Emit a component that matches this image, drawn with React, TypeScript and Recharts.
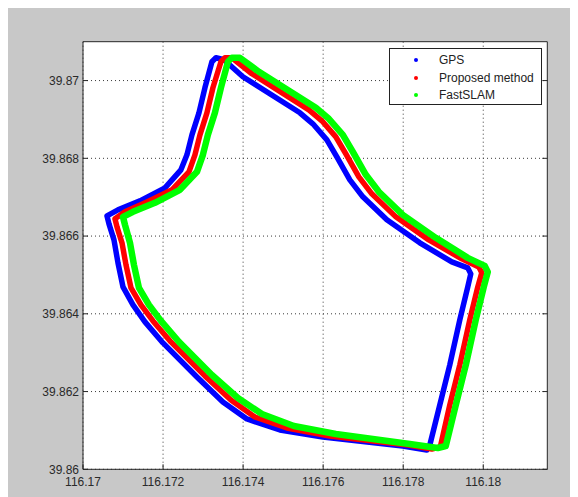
import React from "react";
import { LineChart, Line, XAxis, YAxis, CartesianGrid, Legend } from "recharts";

// Longitude / latitude samples
const gpsLon = [
  116.178665, 116.178914, 116.179164, 116.179414, 116.179613, 116.179688, 116.179613, 116.179214,
  116.178415, 116.177591, 116.176992, 116.176667, 116.176342, 116.176093, 116.175743, 116.175419,
  116.173995, 116.173521, 116.173321, 116.173221, 116.173046, 116.172897, 116.172722, 116.172597,
  116.172447, 116.172048, 116.171423, 116.170874, 116.170599, 116.170649, 116.170774, 116.170874,
  116.170999, 116.171249, 116.171548, 116.171998, 116.172847, 116.173496, 116.174095, 116.174919,
  116.175993, 116.17799, 116.17859,
];
const gpsLat = [
  39.860626, 39.861655, 39.862685, 39.863843, 39.864692, 39.865027, 39.865182, 39.865336,
  39.865825, 39.866417, 39.867009, 39.867447, 39.868039, 39.868476, 39.868888, 39.869171,
  39.870098, 39.870535, 39.870587, 39.870484, 39.869815, 39.869171, 39.868605, 39.86809,
  39.867704, 39.867241, 39.866906, 39.866674, 39.86652, 39.866314, 39.865902, 39.86531,
  39.864692, 39.864229, 39.863792, 39.863251, 39.862376, 39.861732, 39.861295, 39.861012,
  39.860831, 39.8606, 39.860497,
];

const proposedLon = [
  116.178939, 116.179164, 116.179414, 116.179663, 116.179863, 116.179963, 116.179888, 116.179464,
  116.17864, 116.177816, 116.177216, 116.176892, 116.176567, 116.176317, 116.175968, 116.175643,
  116.17422, 116.173721, 116.173546, 116.173446, 116.173246, 116.173096, 116.172922, 116.172797,
  116.172647, 116.172222, 116.171598, 116.171049, 116.170799, 116.170849, 116.170974, 116.171074,
  116.171199, 116.171448, 116.171748, 116.172197, 116.173046, 116.173696, 116.174295, 116.175094,
  116.176168, 116.178115, 116.178715, 116.178914,
];
const proposedLat = [
  39.860626, 39.861655, 39.862685, 39.863843, 39.864692, 39.865053, 39.865207, 39.865413,
  39.865902, 39.866494, 39.867086, 39.867524, 39.868116, 39.868553, 39.868965, 39.869248,
  39.870175, 39.870587, 39.870587, 39.870484, 39.869815, 39.869171, 39.868605, 39.86809,
  39.867653, 39.867189, 39.86688, 39.866623, 39.866443, 39.866237, 39.865825, 39.865259,
  39.864667, 39.864229, 39.863817, 39.863277, 39.862402, 39.861784, 39.861346, 39.861063,
  39.860857, 39.860626, 39.860523, 39.860574,
];

const fastSlamLon = [
  116.179064, 116.179314, 116.179564, 116.179813, 116.180013, 116.180113, 116.180038, 116.179613,
  116.178814, 116.17799, 116.177391, 116.177067, 116.176742, 116.176492, 116.176143, 116.175818,
  116.174395, 116.17392, 116.173721, 116.173621, 116.173446, 116.173296, 116.173121, 116.172996,
  116.172847, 116.172422, 116.171798, 116.171249, 116.170999, 116.171049, 116.171174, 116.171273,
  116.171398, 116.171648, 116.171948, 116.172397, 116.173221, 116.17387, 116.17447, 116.175269,
  116.176317, 116.178165, 116.178864, 116.179064,
];
const fastSlamLat = [
  39.8606, 39.861655, 39.862685, 39.863843, 39.864692, 39.865079, 39.865233, 39.865439,
  39.865954, 39.866546, 39.867138, 39.867575, 39.868167, 39.868605, 39.869017, 39.8693,
  39.870227, 39.870587, 39.870587, 39.870484, 39.869815, 39.869171, 39.868605, 39.86809,
  39.867653, 39.867189, 39.866855, 39.866623, 39.866494, 39.866288, 39.865825, 39.865259,
  39.864667, 39.864229, 39.863817, 39.863277, 39.862427, 39.861835, 39.861423, 39.861115,
  39.860909, 39.860651, 39.860548, 39.8606,
];

const xTicks = [116.17, 116.172, 116.174, 116.176, 116.178, 116.18];
const xTickLabels = ["116.17", "116.172", "116.174", "116.176", "116.178", "116.18"];
const yTicks = [39.86, 39.862, 39.864, 39.866, 39.868, 39.87];
const yTickLabels = ["39.86", "39.862", "39.864", "39.866", "39.868", "39.87"];

const seriesNames = ["GPS", "Proposed method", "FastSLAM"];
const seriesColors = ["#0000ff", "#ff0000", "#00ff00"];

const toPoints = (lon: number[], lat: number[]) => lon.map((x, i) => ({ x, y: lat[i] }));
const gpsData = toPoints(gpsLon, gpsLat);
const proposedData = toPoints(proposedLon, proposedLat);
const fastSlamData = toPoints(fastSlamLon, fastSlamLat);

const X_DOMAIN: [number, number] = [116.17, 116.1816];
const Y_DOMAIN: [number, number] = [39.86, 39.871];

const TEXT = "#2a2a2a";
const AXIS = "#262626";
const FONT = "'Liberation Sans', Arial, sans-serif";

const labelFor = (ticks: number[], labels: string[], v: number) => {
  let best = 0;
  ticks.forEach((t, i) => {
    if (Math.abs(t - v) < Math.abs(ticks[best] - v)) best = i;
  });
  return labels[best];
};

const BottomTick = (props: any) => {
  const { x, y, payload } = props;
  return (
    <g>
      <line x1={x} x2={x} y1={y} y2={y - 5} stroke={AXIS} strokeWidth={1} />
      <text x={x} y={y + 17} textAnchor="middle" fontSize={12} fill={TEXT} fontFamily={FONT}>
        {labelFor(xTicks, xTickLabels, payload.value)}
      </text>
    </g>
  );
};
const TopTick = (props: any) => {
  const { x, y } = props;
  return <line x1={x} x2={x} y1={y} y2={y + 5} stroke={AXIS} strokeWidth={1} />;
};
const LeftTick = (props: any) => {
  const { x, y, payload } = props;
  return (
    <g>
      <line x1={x} x2={x + 5} y1={y} y2={y} stroke={AXIS} strokeWidth={1} />
      <text x={x - 4} y={y + 4.2} textAnchor="end" fontSize={12} fill={TEXT} fontFamily={FONT}>
        {labelFor(yTicks, yTickLabels, payload.value)}
      </text>
    </g>
  );
};
const RightTick = (props: any) => {
  const { x, y } = props;
  return <line x1={x} x2={x - 5} y1={y} y2={y} stroke={AXIS} strokeWidth={1} />;
};

const LegendBox = () => (
  <div
    style={{
      width: 151,
      height: 55,
      border: "1px solid #222",
      background: "#fff",
      position: "relative",
      fontFamily: FONT,
      fontSize: 12,
      color: "#222",
    }}
  >
    {seriesNames.map((name, i) => (
      <div key={name} style={{ position: "absolute", left: 0, top: 3 + i * 17.5, height: 16, width: 151 }}>
        <span
          style={{
            position: "absolute",
            left: 24,
            top: 6,
            width: 4,
            height: 4,
            borderRadius: 2,
            background: seriesColors[i],
          }}
        />
        <span style={{ position: "absolute", left: 49, top: 0, lineHeight: "16px", whiteSpace: "nowrap" }}>
          {name}
        </span>
      </div>
    ))}
  </div>
);

export default function App() {
  return (
    <div style={{ width: 570, height: 489, background: "#c8c8c8", position: "relative" }}>
      <LineChart
        width={570}
        height={489}
        margin={{ top: 32.7, right: 29.7, bottom: 0, left: 0 }}
        style={{ fontFamily: FONT }}
      >
        <CartesianGrid
          fill="#ffffff"
          stroke="#3a3a3a"
          strokeDasharray="1 3"
          horizontalValues={yTicks}
          verticalValues={xTicks}
        />
        <XAxis
          type="number"
          dataKey="x"
          domain={X_DOMAIN}
          ticks={xTicks}
          allowDataOverflow
          interval={0}
          height={27.7}
          tickSize={0}
          tickMargin={0}
          tickLine={false}
          axisLine={{ stroke: AXIS }}
          tick={<BottomTick />}
        />
        <XAxis
          xAxisId="top"
          orientation="top"
          type="number"
          domain={X_DOMAIN}
          ticks={xTicks}
          allowDataOverflow
          interval={0}
          height={1}
          tickSize={0}
          tickMargin={0}
          tickLine={false}
          axisLine={{ stroke: AXIS }}
          tick={<TopTick />}
        />
        <YAxis
          type="number"
          dataKey="y"
          domain={Y_DOMAIN}
          ticks={yTicks}
          allowDataOverflow
          interval={0}
          width={75}
          tickSize={0}
          tickMargin={0}
          tickLine={false}
          axisLine={{ stroke: AXIS }}
          tick={<LeftTick />}
        />
        <YAxis
          yAxisId="right"
          orientation="right"
          type="number"
          domain={Y_DOMAIN}
          ticks={yTicks}
          allowDataOverflow
          interval={0}
          width={1}
          tickSize={0}
          tickMargin={0}
          tickLine={false}
          axisLine={{ stroke: AXIS }}
          tick={<RightTick />}
        />
        <Line
          data={gpsData}
          dataKey="y"
          name={seriesNames[0]}
          type="linear"
          stroke={seriesColors[0]}
          strokeWidth={5.5}
          strokeLinejoin="round"
          strokeLinecap="round"
          dot={false}
          isAnimationActive={false}
        />
        <Line
          data={proposedData}
          dataKey="y"
          name={seriesNames[1]}
          type="linear"
          stroke={seriesColors[1]}
          strokeWidth={5.5}
          strokeLinejoin="round"
          strokeLinecap="round"
          dot={false}
          isAnimationActive={false}
        />
        <Line
          data={fastSlamData}
          dataKey="y"
          name={seriesNames[2]}
          type="linear"
          stroke={seriesColors[2]}
          strokeWidth={6.5}
          strokeLinejoin="round"
          strokeLinecap="round"
          dot={false}
          isAnimationActive={false}
        />
        <Legend
          layout="vertical"
          align="center"
          verticalAlign="middle"
          wrapperStyle={{ left: 381, top: 40.3, width: 153, height: 57 }}
          content={() => <LegendBox />}
        />
      </LineChart>
    </div>
  );
}
